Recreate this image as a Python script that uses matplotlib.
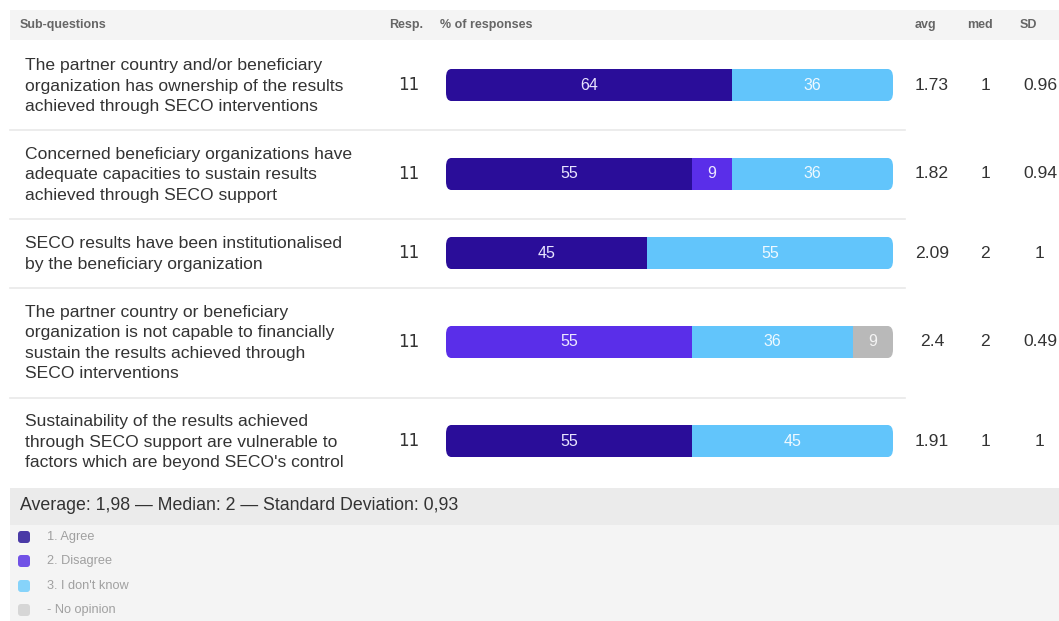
import matplotlib
matplotlib.use("Agg")
import matplotlib.pyplot as plt
from matplotlib.patches import Rectangle, FancyBboxPatch
import numpy as np

plt.rcParams['font.family'] = ['Liberation Sans', 'DejaVu Sans']

# ---------------- data ----------------
questions = [
    "The partner country and/or beneficiary\norganization has ownership of the results\nachieved through SECO interventions",
    "Concerned beneficiary organizations have\nadequate capacities to sustain results\nachieved through SECO support",
    "SECO results have been institutionalised\nby the beneficiary organization",
    "The partner country or beneficiary\norganization is not capable to financially\nsustain the results achieved through\nSECO interventions",
    "Sustainability of the results achieved\nthrough SECO support are vulnerable to\nfactors which are beyond SECO's control",
]
responses = [11, 11, 11, 11, 11]
categories = ["1. Agree", "2. Disagree", "3. I don't know", "- No opinion"]
agree = [64, 55, 45, 0, 55]
disagree = [0, 9, 0, 55, 0]
dont_know = [36, 36, 55, 36, 45]
no_opinion = [0, 0, 0, 9, 0]
avg = ["1.73", "1.82", "2.09", "2.4", "1.91"]
med = ["1", "1", "2", "2", "1"]
sd = ["0.96", "0.94", "1", "0.49", "1"]
summary = "Average: 1,98 \u2014 Median: 2 \u2014 Standard Deviation: 0,93"
headers = ["Sub-questions", "Resp.", "% of responses", "avg", "med", "SD"]

# ---------------- layout (pixels) ----------------
W, H = 1059, 621
colors = ["#2a0d99", "#5a2ee9", "#62c5fb", "#b9b9b9"]
legend_colors = ["#4a3aa6", "#7152e6", "#86d3fa", "#d6d6d6"]
row_centers = [85, 174, 253, 342, 441]
row_bounds = [42, 130, 219, 288, 398, 487]
bar_x0, bar_x1 = 446, 893
bar_h = 32
fs = 12.6

fig = plt.figure(figsize=(W / 100, H / 100), dpi=100)
ax = fig.add_axes([0, 0, 1, 1])
ax.set_xlim(0, W)
ax.set_ylim(H, 0)
ax.axis("off")

# header band
ax.add_patch(Rectangle((10, 10), W - 10, 30, facecolor="#f4f4f4", edgecolor="none"))
hdr_x = [20, 389, 440, 915, 967, 1020]
for t, x in zip(headers, hdr_x):
    ax.text(x, 25, t, fontsize=9, color="#666666", fontweight="bold",
            va="center", ha="left")

# separators
for yb in row_bounds[1:-1]:
    ax.plot([10, 905], [yb, yb], color="#e9e9e9", lw=1.2)

# rows text
for i, yc in enumerate(row_centers):
    ax.text(25, yc + 1, questions[i], fontsize=fs, color="#333333",
            va="center", ha="left", linespacing=1.45)
    ax.text(409, yc, str(responses[i]), fontsize=12, color="#333333",
            va="center", ha="center", family="DejaVu Sans")
    ax.text(932, yc, avg[i], fontsize=fs, color="#333333", va="center", ha="center")
    ax.text(985, yc, med[i], fontsize=fs, color="#333333", va="center", ha="center")
    ax.text(1040, yc, sd[i], fontsize=fs, color="#333333", va="center", ha="center")

# footer
ax.add_patch(Rectangle((10, 488), W - 10, 37, facecolor="#ebebeb", edgecolor="none"))
ax.add_patch(Rectangle((10, 525), W - 10, H - 525, facecolor="#f4f4f4", edgecolor="none"))
ax.text(20, 506, summary, fontsize=12.8, color="#333333", va="center", ha="left")
leg_y = [537, 561, 586, 610]
for c, lab, y in zip(legend_colors, categories, leg_y):
    ax.add_patch(FancyBboxPatch((18, y - 6), 12, 12, boxstyle="round,pad=0,rounding_size=3",
                                facecolor=c, edgecolor="none"))
    ax.text(47, y, lab, fontsize=9.2, color="#a0a0a0", va="center", ha="left")

# bars axis
bx = fig.add_axes([bar_x0 / W, 0, (bar_x1 - bar_x0) / W, 1])
bx.set_xlim(0, 100)
bx.set_ylim(H, 0)
bx.axis("off")
series = [agree, disagree, dont_know, no_opinion]
left = np.zeros(len(row_centers))
txt_colors = ["#e8e4ff", "#ece8ff", "#eef9ff", "#f4f4f4"]
for s, c, tc in zip(series, colors, txt_colors):
    vals = np.array(s, dtype=float)
    bars = bx.barh(row_centers, vals, left=left, height=bar_h, color=c, edgecolor="none")
    for rect, v, l, yc in zip(bars, vals, left, row_centers):
        clip = FancyBboxPatch((0, yc - bar_h / 2), 100, bar_h,
                              boxstyle="round,pad=0,rounding_size=1.2",
                              mutation_aspect=bar_h / 4.5,
                              transform=bx.transData, facecolor="none", edgecolor="none")
        bx.add_patch(clip)
        rect.set_clip_path(clip)
        if v > 0:
            bx.text(l + v / 2, yc, f"{int(v)}", fontsize=11.5, color=tc,
                    ha="center", va="center")
    left += vals

fig.savefig("out.png", dpi=100)
